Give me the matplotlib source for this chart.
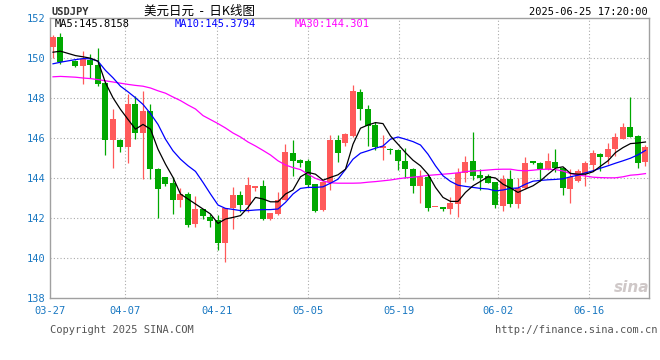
import numpy as np
import matplotlib
matplotlib.use("Agg")
import matplotlib.pyplot as plt

nan = np.nan

# daily candles USDJPY, one entry per slot (slot 2 has no data)
opens = [150.54, 151.05, nan, 149.87, 149.62, 149.92, 149.66, 148.73, 145.89, 145.92,
         145.54, 147.71, 146.24, 147.37, 144.47, 144.03, 143.74, 142.90, 143.20, 141.70,
         142.43, 142.07, 141.88, 140.74, 142.48, 143.13, 142.65, 143.48, 143.58, 141.97,
         142.20, 142.90, 145.27, 144.92, 144.86, 143.69, 142.38, 143.79, 145.90, 145.74,
         146.10, 148.31, 147.45, 146.63, 145.52, 145.47, 145.42, 144.87, 144.47, 143.58,
         144.04, 142.53, 142.55, 142.45, 142.70, 144.26, 144.84, 144.14, 144.09, 143.79,
         142.60, 143.93, 142.70, 143.50, 144.86, 144.77, 144.47, 144.82, 144.52, 143.45,
         143.86, 144.19, 144.64, 145.22, 145.06, 145.44, 145.95, 146.53, 146.12, 144.79]
highs = [151.17, 151.27, nan, 149.88, 150.34, 150.19, 150.52, 148.80, 147.43, 145.93,
         148.18, 148.11, 148.35, 147.70, 144.50, 144.05, 144.03, 143.48, 143.28, 143.08,
         142.45, 142.20, 142.13, 142.52, 143.54, 143.36, 144.03, 143.62, 143.89, 142.26,
         143.28, 145.72, 145.90, 144.93, 144.97, 143.70, 143.86, 146.17, 146.17, 146.27,
         148.66, 148.46, 147.65, 146.80, 146.15, 145.48, 145.43, 145.50, 144.48, 144.38,
         144.16, 142.55, 142.55, 143.05, 144.49, 145.09, 146.29, 144.44, 144.19, 143.80,
         144.13, 144.39, 143.98, 145.07, 144.87, 144.78, 145.27, 145.47, 144.53, 144.46,
         144.43, 144.86, 145.39, 145.23, 145.77, 146.24, 146.77, 148.06, 146.13, 145.64]
lows = [150.01, 149.71, nan, 149.54, 148.68, 149.00, 148.62, 145.16, 144.49, 145.29,
        144.77, 145.94, 143.94, 143.94, 141.98, 143.58, 142.20, 142.56, 141.57, 141.57,
        141.97, 141.57, 140.41, 139.79, 141.45, 142.28, 142.28, 143.36, 141.88, 141.88,
        142.15, 142.89, 144.11, 144.57, 143.53, 142.28, 142.33, 143.40, 144.81, 145.62,
        146.05, 146.88, 145.59, 145.41, 144.89, 145.19, 144.40, 144.00, 143.25, 142.75,
        142.35, 142.53, 142.35, 142.20, 142.05, 143.79, 143.89, 143.40, 143.74, 142.50,
        142.33, 142.55, 142.52, 143.43, 144.69, 143.86, 144.39, 144.28, 143.15, 142.75,
        143.81, 143.61, 144.36, 144.33, 144.69, 145.11, 145.95, 146.07, 144.49, 144.59]
closes = [151.05, 149.82, nan, 149.62, 149.97, 149.63, 148.68, 145.89, 146.93, 145.54,
          147.71, 146.24, 147.37, 144.44, 143.45, 143.69, 142.90, 143.18, 141.63, 142.43,
          142.08, 141.85, 140.74, 142.51, 143.13, 142.65, 143.63, 143.61, 141.97, 142.25,
          142.91, 145.29, 144.87, 144.77, 143.64, 142.35, 143.79, 145.90, 145.27, 146.19,
          148.36, 147.43, 146.58, 145.55, 145.59, 145.39, 144.86, 144.43, 143.58, 144.04,
          142.48, 142.55, 142.45, 142.75, 144.24, 144.79, 144.09, 144.01, 143.74, 142.65,
          143.93, 142.70, 143.48, 144.77, 144.74, 144.47, 144.86, 144.49, 143.50, 144.06,
          144.33, 144.74, 145.24, 145.06, 145.44, 146.07, 146.53, 146.07, 144.74, 145.57]

# moving averages as drawn on the chart
ma5 = [150.29, 150.34, nan, 150.12, 150.06, 149.99, 149.84, 148.76, 148.01, 147.43,
       146.93, 146.44, 146.68, 146.44, 145.44, 144.69, 144.03, 143.20, 142.95, 142.70,
       142.45, 142.20, 141.73, 141.95, 142.03, 142.12, 142.53, 143.03, 142.95, 142.81,
       142.81, 143.20, 143.40, 144.06, 144.28, 144.19, 143.89, 144.03, 144.16, 144.44,
       145.69, 146.49, 146.65, 146.77, 146.72, 146.10, 145.69, 145.27, 144.89, 144.61,
       144.19, 143.53, 143.03, 142.83, 142.83, 143.28, 143.61, 143.83, 144.06, 144.00,
       143.69, 143.50, 143.28, 143.45, 143.61, 143.86, 144.19, 144.49, 144.56, 144.23,
       144.19, 144.19, 144.31, 144.59, 144.86, 145.27, 145.52, 145.72, 145.75, 145.80]
ma10 = [149.71, 149.79, nan, 149.92, 149.97, 149.96, 149.84, 149.38, 149.01, 148.59,
        148.31, 148.01, 147.68, 147.22, 146.68, 145.94, 145.36, 144.94, 144.61, 144.33,
        143.78, 143.20, 142.65, 142.48, 142.43, 142.37, 142.37, 142.40, 142.42, 142.42,
        142.45, 142.78, 143.20, 143.48, 143.53, 143.53, 143.56, 143.74, 143.94, 144.43,
        144.94, 145.24, 145.36, 145.49, 145.60, 145.94, 146.05, 145.94, 145.82, 145.65,
        145.19, 144.61, 144.11, 143.83, 143.64, 143.58, 143.53, 143.48, 143.45, 143.36,
        143.40, 143.48, 143.50, 143.69, 143.84, 143.88, 143.91, 143.93, 143.96, 144.06,
        144.14, 144.26, 144.36, 144.49, 144.61, 144.74, 144.86, 144.99, 145.16, 145.38]
ma30 = [149.06, 149.08, nan, 149.04, 149.00, 148.97, 148.92, 148.86, 148.80, 148.74,
        148.68, 148.63, 148.59, 148.50, 148.36, 148.24, 148.05, 147.87, 147.65, 147.45,
        147.12, 146.92, 146.72, 146.50, 146.25, 146.05, 145.80, 145.60, 145.38, 145.15,
        144.86, 144.65, 144.52, 144.42, 144.19, 143.98, 143.85, 143.76, 143.74, 143.74,
        143.74, 143.75, 143.79, 143.82, 143.86, 143.90, 143.96, 144.01, 144.04, 144.08,
        144.13, 144.16, 144.19, 144.22, 144.26, 144.32, 144.35, 144.37, 144.40, 144.43,
        144.44, 144.44, 144.38, 144.36, 144.39, 144.43, 144.44, 144.42, 144.35, 144.22,
        144.15, 144.10, 144.04, 144.02, 144.01, 144.01, 144.06, 144.14, 144.17, 144.22]

date_labels = ["03-27", "04-07", "04-21", "05-05", "05-19", "06-02", "06-16"]
date_pos = [-0.4, 9.6, 21.9, 34.0, 46.1, 59.3, 71.5]
y_ticks = [138, 140, 142, 144, 146, 148, 150, 152]

UP = "#ff5a5a"
DOWN = "#00a800"
BLUE_TXT = "#1a78c2"
GRID = "#aaaaaa"
MONO = "DejaVu Sans Mono"

W, H = 660, 360
fig = plt.figure(figsize=(W / 100, H / 100), dpi=100)
ax = fig.add_axes([50 / W, 1 - 298 / H, 599 / W, 280 / H])

o = np.array(opens); h = np.array(highs); l = np.array(lows); c = np.array(closes)
x = np.arange(len(o))
ok = ~np.isnan(c)

# grid first so candles sit above
for yv in y_ticks[1:-1]:
    ax.axhline(yv, color=GRID, lw=0.8, ls=(0, (1, 2)), zorder=0)
for xv in date_pos[1:]:
    ax.axvline(xv, color=GRID, lw=0.8, ls=(0, (1, 2)), zorder=0)

cols = np.where(c >= o, UP, DOWN)
body_lo = np.minimum(o, c)
body_h = np.maximum(np.abs(c - o), 0.05)
ax.vlines(x[ok], l[ok], h[ok], colors=cols[ok], lw=0.9, zorder=2)
ax.bar(x[ok], body_h[ok], bottom=body_lo[ok], width=0.8, color=cols[ok],
       linewidth=0, zorder=3)

for ma, col in [(ma30, "#ff00ff"), (ma10, "#0000ff"), (ma5, "#000000")]:
    arr = np.array(ma)
    ax.plot(x[ok], arr[ok], color=col, lw=0.9, zorder=4)

ax.set_xlim(-0.4, 79.47)
ax.set_ylim(138, 152)
ax.set_yticks(y_ticks)
ax.set_yticklabels([str(v) for v in y_ticks], family=MONO, fontsize=7.5, color=BLUE_TXT)
ax.set_xticks(date_pos)
ax.set_xticklabels(date_labels, family=MONO, fontsize=7.5, color=BLUE_TXT)
ax.tick_params(length=0, pad=3)
ax.tick_params(axis="x", pad=6)
for s in ax.spines.values():
    s.set_color("#a0a0a0")
    s.set_linewidth(1)

def px(xp, yp):
    return xp / W, 1 - yp / H

fig.text(*px(51, 12), "USDJPY", family=MONO, fontweight="bold", fontsize=7.5,
         color="#333333", va="center", ha="left")
fig.text(*px(200, 11), "美元日元  -  日K线图", family=["Noto Sans CJK SC", "DejaVu Sans"],
         fontsize=9, color="#000000", va="center", ha="center")
fig.text(*px(648, 12), "2025-06-25 17:20:00", family=MONO, fontsize=7.5,
         color="#000000", va="center", ha="right")
fig.text(*px(55, 24), "MA5:145.8158", family=MONO, fontsize=7.5, color="#000000",
         va="center", ha="left")
fig.text(*px(175, 24), "MA10:145.3794", family=MONO, fontsize=7.5, color="#0000ff",
         va="center", ha="left")
fig.text(*px(295, 24), "MA30:144.301", family=MONO, fontsize=7.5, color="#ff00ff",
         va="center", ha="left")
fig.text(*px(50, 330), "Copyright 2025 SINA.COM", family=MONO, fontsize=7.5,
         color="#555555", va="center", ha="left")
fig.text(*px(657, 330), "http://finance.sina.com.cn", family=MONO, fontsize=7.5,
         color="#555555", va="center", ha="right")
fig.text(*px(632, 287), "sina", fontsize=11, fontstyle="italic", fontweight="bold",
         color="#cfc8c8", va="center", ha="center")

fig.savefig("out.png", dpi=100)
